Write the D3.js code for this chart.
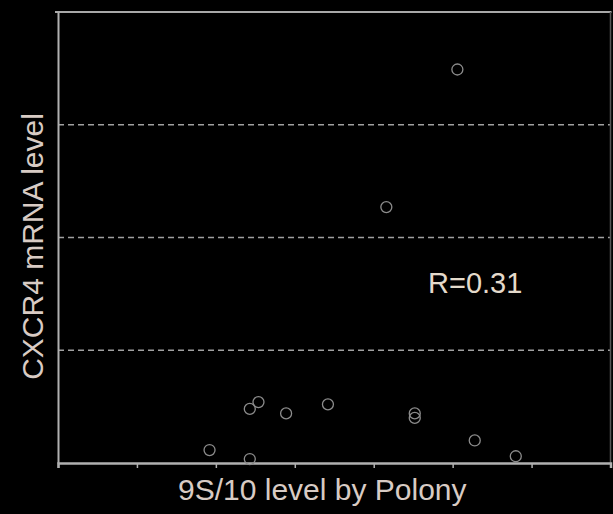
<!DOCTYPE html>
<html>
<head>
<meta charset="utf-8">
<script src="https://cdn.jsdelivr.net/npm/d3@7"></script>
<style>
  html, body { margin: 0; padding: 0; background: #000; }
  svg { display: block; }
</style>
</head>
<body>
<div id="chart"></div>
<script>
// polony 9S/10 level vs CXCR4 mRNA level
const xValues = [1.92, 2.43, 2.54, 2.89, 3.42, 2.43, 4.16, 4.52, 4.52, 5.06, 5.28, 5.80];
const yValues = [0.115, 0.48, 0.54, 0.44, 0.52, 0.035, 2.27, 0.44, 0.40, 3.49, 0.20, 0.06];
const xTicks = [0, 1, 2, 3, 4, 5, 6, 7];
const gridTicks = [1, 2, 3];

const width = 613, height = 514;
const margin = {top: 12, right: 2, bottom: 51, left: 58};

const svg = d3.select("#chart")
    .append("svg")
    .attr("width", width)
    .attr("height", height)
    .style("background", "#000");

const x = d3.scaleLinear().domain([0, 7]).range([margin.left, width - margin.right - 0.5]);
const y = d3.scaleLinear().domain([0, 4]).range([height - margin.bottom, margin.top]);

// dashed grid lines
svg.append("g")
    .selectAll("line")
    .data(gridTicks)
    .join("line")
    .attr("x1", x(0))
    .attr("x2", x(7))
    .attr("y1", d => y(d))
    .attr("y2", d => y(d))
    .style("stroke", "#a0a0a0")
    .style("stroke-width", 1.5)
    .style("stroke-dasharray", "6,4");

// frame: top and right
svg.append("line")
    .attr("x1", x(0) - 3).attr("x2", x(7) + 1)
    .attr("y1", y(4)).attr("y2", y(4))
    .style("stroke", "#a8a8a8").style("stroke-width", 2);
svg.append("line")
    .attr("x1", x(7)).attr("x2", x(7))
    .attr("y1", y(4)).attr("y2", y(0))
    .style("stroke", "#555").style("stroke-width", 1.5);

// x axis
const xAxis = svg.append("g")
    .attr("transform", `translate(0,${y(0)})`)
    .call(d3.axisBottom(x).tickValues(xTicks).tickSize(5).tickFormat(""));
xAxis.select(".domain").style("stroke", "#b0b0b0").style("stroke-width", 2.5);
xAxis.selectAll(".tick line").style("stroke", "#b0b0b0").style("stroke-width", 1.5);

// y axis
const yAxis = svg.append("g")
    .attr("transform", `translate(${x(0)},0)`)
    .call(d3.axisLeft(y).tickValues([]).tickSizeOuter(0));
yAxis.select(".domain").style("stroke", "#b0b0b0").style("stroke-width", 2);

// points
svg.append("g")
    .selectAll("circle")
    .data(xValues.map((d, i) => [d, yValues[i]]))
    .join("circle")
    .attr("cx", d => x(d[0]))
    .attr("cy", d => y(d[1]))
    .attr("r", 5.5)
    .style("fill", "none")
    .style("stroke", "#8c8c8c")
    .style("stroke-width", 1.3);

// labels
svg.append("text")
    .attr("x", (x(0) + x(7)) / 2 - 12)
    .attr("y", 500)
    .attr("text-anchor", "middle")
    .style("font-family", "'Liberation Sans', Arial, sans-serif")
    .style("font-size", "30px")
    .style("fill", "#d8cbc4")
    .text("9S/10 level by Polony");

svg.append("text")
    .attr("transform", `translate(43,${(y(0) + y(4)) / 2 + 9}) rotate(-90)`)
    .attr("text-anchor", "middle")
    .style("font-family", "'Liberation Sans', Arial, sans-serif")
    .style("font-size", "30px")
    .style("fill", "#d8cbc4")
    .text("CXCR4 mRNA level");

svg.append("text")
    .attr("x", 428)
    .attr("y", 293)
    .style("font-family", "'Liberation Sans', Arial, sans-serif")
    .style("font-size", "29px")
    .style("fill", "#e4dacb")
    .text("R=0.31");
</script>
</body>
</html>
